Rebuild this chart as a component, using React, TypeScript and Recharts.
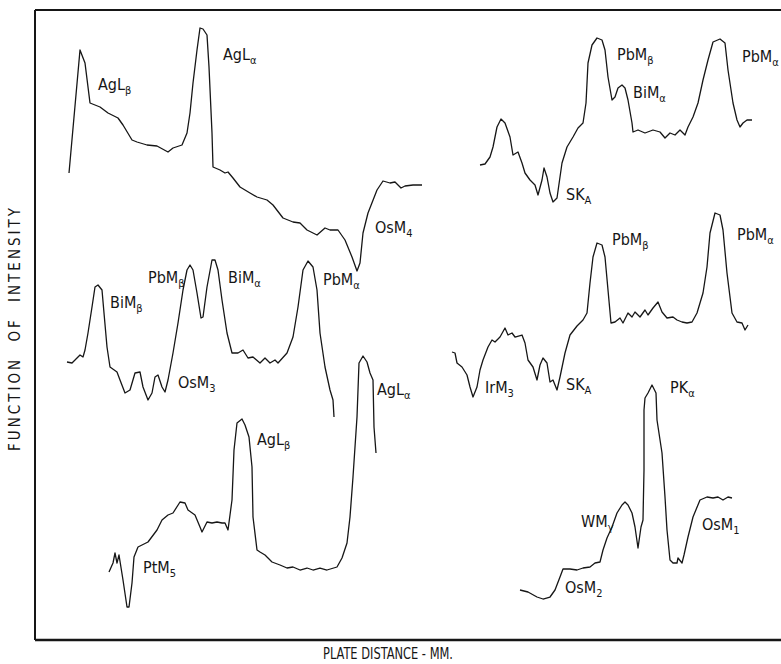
import { Label, Line, LineChart, ReferenceDot, ReferenceLine, XAxis, YAxis } from "recharts";

// plate distance (x) vs function of intensity (y), arbitrary units
const agOsTrace = [
  { x: 34, y: 467 }, { x: 45, y: 590 }, { x: 50, y: 577 }, { x: 55, y: 537 }, { x: 65, y: 533 },
  { x: 73, y: 527 }, { x: 83, y: 522 }, { x: 88, y: 515 }, { x: 97, y: 500 }, { x: 102, y: 498 },
  { x: 112, y: 495 }, { x: 122, y: 494 }, { x: 133, y: 488 }, { x: 138, y: 492 }, { x: 147, y: 495 },
  { x: 152, y: 507 }, { x: 155, y: 527 }, { x: 158, y: 557 }, { x: 162, y: 590 }, { x: 165, y: 612 },
  { x: 168, y: 611 }, { x: 172, y: 605 }, { x: 174, y: 573 }, { x: 177, y: 507 }, { x: 178, y: 473 },
  { x: 185, y: 470 }, { x: 190, y: 467 }, { x: 193, y: 468 }, { x: 198, y: 462 }, { x: 205, y: 453 },
  { x: 215, y: 447 }, { x: 222, y: 443 }, { x: 232, y: 440 }, { x: 238, y: 435 }, { x: 248, y: 422 },
  { x: 258, y: 418 }, { x: 265, y: 417 }, { x: 272, y: 410 }, { x: 282, y: 405 }, { x: 290, y: 412 },
  { x: 295, y: 410 }, { x: 303, y: 410 }, { x: 310, y: 400 }, { x: 317, y: 383 }, { x: 322, y: 369 },
  { x: 325, y: 377 }, { x: 328, y: 407 }, { x: 333, y: 427 }, { x: 342, y: 450 }, { x: 348, y: 459 },
  { x: 355, y: 457 }, { x: 360, y: 458 }, { x: 366, y: 452 }, { x: 370, y: 454 }, { x: 378, y: 455 },
  { x: 387, y: 455 },
];

const biPbTrace = [
  { x: 32, y: 278 }, { x: 37, y: 277 }, { x: 42, y: 282 }, { x: 45, y: 285 }, { x: 48, y: 283 },
  { x: 50, y: 290 }, { x: 53, y: 307 }, { x: 57, y: 333 }, { x: 60, y: 353 }, { x: 63, y: 355 },
  { x: 67, y: 350 }, { x: 69, y: 327 }, { x: 72, y: 293 }, { x: 75, y: 273 }, { x: 82, y: 268 },
  { x: 85, y: 260 }, { x: 90, y: 247 }, { x: 95, y: 250 }, { x: 100, y: 267 }, { x: 105, y: 268 },
  { x: 108, y: 253 }, { x: 113, y: 240 }, { x: 117, y: 247 }, { x: 120, y: 263 }, { x: 123, y: 265 },
  { x: 127, y: 253 }, { x: 130, y: 248 }, { x: 133, y: 260 }, { x: 138, y: 287 }, { x: 143, y: 317 },
  { x: 148, y: 350 }, { x: 152, y: 370 }, { x: 155, y: 375 }, { x: 158, y: 370 }, { x: 162, y: 347 },
  { x: 166, y: 322 }, { x: 168, y: 323 }, { x: 172, y: 353 }, { x: 177, y: 380 }, { x: 180, y: 380 },
  { x: 183, y: 370 }, { x: 187, y: 340 }, { x: 192, y: 307 }, { x: 197, y: 287 }, { x: 203, y: 287 },
  { x: 208, y: 290 }, { x: 213, y: 282 }, { x: 218, y: 283 }, { x: 225, y: 277 }, { x: 230, y: 282 },
  { x: 235, y: 277 }, { x: 240, y: 280 }, { x: 243, y: 277 }, { x: 252, y: 287 }, { x: 258, y: 303 },
  { x: 263, y: 333 }, { x: 268, y: 370 }, { x: 273, y: 379 }, { x: 278, y: 373 }, { x: 282, y: 350 },
  { x: 285, y: 307 }, { x: 290, y: 273 }, { x: 295, y: 250 }, { x: 298, y: 240 }, { x: 299, y: 223 },
];

const ptAgTrace = [
  { x: 74, y: 68 }, { x: 78, y: 77 }, { x: 80, y: 87 }, { x: 82, y: 77 }, { x: 84, y: 85 },
  { x: 88, y: 60 }, { x: 92, y: 33 }, { x: 94, y: 33 }, { x: 97, y: 57 }, { x: 99, y: 83 },
  { x: 103, y: 93 }, { x: 113, y: 98 }, { x: 122, y: 110 }, { x: 127, y: 120 }, { x: 133, y: 125 },
  { x: 138, y: 127 }, { x: 145, y: 138 }, { x: 150, y: 137 }, { x: 153, y: 130 }, { x: 160, y: 125 },
  { x: 165, y: 113 }, { x: 167, y: 108 }, { x: 172, y: 118 }, { x: 177, y: 117 }, { x: 182, y: 118 },
  { x: 187, y: 117 }, { x: 190, y: 117 }, { x: 193, y: 110 }, { x: 197, y: 140 }, { x: 199, y: 190 },
  { x: 202, y: 217 }, { x: 207, y: 221 }, { x: 210, y: 215 }, { x: 214, y: 203 }, { x: 217, y: 173 },
  { x: 218, y: 123 }, { x: 222, y: 90 }, { x: 225, y: 88 }, { x: 230, y: 85 }, { x: 237, y: 78 },
  { x: 245, y: 75 }, { x: 252, y: 72 }, { x: 258, y: 73 }, { x: 265, y: 70 }, { x: 272, y: 72 },
  { x: 278, y: 70 }, { x: 285, y: 72 }, { x: 292, y: 70 }, { x: 302, y: 73 }, { x: 307, y: 82 },
  { x: 312, y: 97 }, { x: 315, y: 123 }, { x: 318, y: 163 }, { x: 322, y: 223 }, { x: 324, y: 277 },
  { x: 328, y: 284 }, { x: 332, y: 278 }, { x: 335, y: 267 }, { x: 338, y: 260 }, { x: 339, y: 213 },
  { x: 341, y: 187 },
];

const pbBiSTrace = [
  { x: 445, y: 475 }, { x: 450, y: 476 }, { x: 455, y: 483 }, { x: 458, y: 493 }, { x: 462, y: 513 },
  { x: 466, y: 521 }, { x: 470, y: 517 }, { x: 475, y: 503 }, { x: 478, y: 485 }, { x: 483, y: 488 },
  { x: 487, y: 477 }, { x: 490, y: 467 }, { x: 495, y: 460 }, { x: 500, y: 455 }, { x: 503, y: 445 },
  { x: 507, y: 460 }, { x: 509, y: 472 }, { x: 512, y: 463 }, { x: 515, y: 447 }, { x: 518, y: 438 },
  { x: 522, y: 442 }, { x: 527, y: 477 }, { x: 532, y: 493 }, { x: 538, y: 503 }, { x: 543, y: 512 },
  { x: 548, y: 517 }, { x: 551, y: 537 }, { x: 553, y: 577 }, { x: 557, y: 595 }, { x: 562, y: 602 },
  { x: 567, y: 600 }, { x: 570, y: 590 }, { x: 573, y: 563 }, { x: 577, y: 540 }, { x: 580, y: 543 },
  { x: 583, y: 552 }, { x: 587, y: 555 }, { x: 590, y: 552 }, { x: 593, y: 540 }, { x: 597, y: 517 },
  { x: 598, y: 508 }, { x: 603, y: 510 }, { x: 610, y: 507 }, { x: 618, y: 510 }, { x: 625, y: 508 },
  { x: 630, y: 502 }, { x: 635, y: 507 }, { x: 640, y: 505 }, { x: 645, y: 510 }, { x: 650, y: 505 },
  { x: 653, y: 513 }, { x: 658, y: 523 }, { x: 663, y: 537 }, { x: 668, y: 560 }, { x: 673, y: 580 },
  { x: 678, y: 598 }, { x: 685, y: 601 }, { x: 690, y: 597 }, { x: 693, y: 570 }, { x: 698, y: 537 },
  { x: 702, y: 520 }, { x: 705, y: 513 }, { x: 708, y: 517 }, { x: 712, y: 520 }, { x: 717, y: 520 },
];

const irPbTrace = [
  { x: 417, y: 288 }, { x: 420, y: 287 }, { x: 422, y: 277 }, { x: 427, y: 273 }, { x: 432, y: 265 },
  { x: 435, y: 253 }, { x: 438, y: 243 }, { x: 442, y: 253 }, { x: 445, y: 270 }, { x: 448, y: 280 },
  { x: 453, y: 293 }, { x: 457, y: 300 }, { x: 460, y: 298 }, { x: 465, y: 303 }, { x: 470, y: 312 },
  { x: 473, y: 305 }, { x: 477, y: 307 }, { x: 480, y: 303 }, { x: 487, y: 305 }, { x: 490, y: 297 },
  { x: 493, y: 280 }, { x: 498, y: 273 }, { x: 502, y: 260 }, { x: 505, y: 275 }, { x: 508, y: 282 },
  { x: 512, y: 277 }, { x: 515, y: 258 }, { x: 518, y: 260 }, { x: 522, y: 250 }, { x: 525, y: 263 },
  { x: 530, y: 287 }, { x: 535, y: 305 }, { x: 542, y: 314 }, { x: 548, y: 320 }, { x: 552, y: 327 },
  { x: 555, y: 357 }, { x: 558, y: 383 }, { x: 562, y: 397 }, { x: 567, y: 395 }, { x: 570, y: 383 },
  { x: 573, y: 350 }, { x: 576, y: 317 }, { x: 580, y: 318 }, { x: 585, y: 322 }, { x: 588, y: 317 },
  { x: 593, y: 327 }, { x: 597, y: 323 }, { x: 600, y: 328 }, { x: 605, y: 323 }, { x: 610, y: 330 },
  { x: 613, y: 325 }, { x: 618, y: 332 }, { x: 623, y: 338 }, { x: 627, y: 328 }, { x: 632, y: 322 },
  { x: 638, y: 323 }, { x: 642, y: 320 }, { x: 647, y: 318 }, { x: 652, y: 317 }, { x: 657, y: 318 },
  { x: 662, y: 327 }, { x: 668, y: 347 }, { x: 672, y: 373 }, { x: 675, y: 407 }, { x: 680, y: 427 },
  { x: 685, y: 425 }, { x: 688, y: 410 }, { x: 692, y: 367 }, { x: 697, y: 327 }, { x: 702, y: 318 },
  { x: 707, y: 317 }, { x: 710, y: 310 }, { x: 713, y: 315 },
];

const pOsTrace = [
  { x: 485, y: 50 }, { x: 493, y: 48 }, { x: 502, y: 43 }, { x: 508, y: 41 }, { x: 515, y: 43 },
  { x: 520, y: 50 }, { x: 525, y: 63 }, { x: 528, y: 71 }, { x: 535, y: 71 }, { x: 542, y: 70 },
  { x: 548, y: 72 }, { x: 555, y: 73 }, { x: 560, y: 77 }, { x: 565, y: 78 }, { x: 568, y: 90 },
  { x: 572, y: 102 }, { x: 577, y: 113 }, { x: 582, y: 127 }, { x: 587, y: 135 }, { x: 590, y: 138 },
  { x: 593, y: 135 }, { x: 597, y: 127 }, { x: 600, y: 113 }, { x: 603, y: 92 }, { x: 606, y: 113 },
  { x: 608, y: 120 }, { x: 609, y: 170 }, { x: 609, y: 230 }, { x: 610, y: 242 }, { x: 613, y: 247 },
  { x: 617, y: 255 }, { x: 621, y: 247 }, { x: 622, y: 220 }, { x: 627, y: 187 }, { x: 630, y: 143 },
  { x: 632, y: 110 }, { x: 635, y: 80 }, { x: 638, y: 77 }, { x: 642, y: 77 }, { x: 643, y: 82 },
  { x: 647, y: 77 }, { x: 649, y: 85 }, { x: 653, y: 103 }, { x: 658, y: 123 }, { x: 665, y: 140 },
  { x: 672, y: 143 }, { x: 678, y: 142 }, { x: 683, y: 143 }, { x: 688, y: 140 }, { x: 693, y: 143 },
  { x: 697, y: 142 },
];

const traces = [agOsTrace, biPbTrace, ptAgTrace, pbBiSTrace, irPbTrace, pOsTrace];

// line identifications: main symbol, subscript, and where the lettering starts
const lineNames = [
  { x: 63, y: 550, text: "AgL", sub: "β" },
  { x: 188, y: 580, text: "AgL", sub: "α" },
  { x: 340, y: 407, text: "OsM", sub: "4" },
  { x: 75, y: 332, text: "BiM", sub: "β" },
  { x: 113, y: 357, text: "PbM", sub: "β" },
  { x: 193, y: 357, text: "BiM", sub: "α" },
  { x: 288, y: 355, text: "PbM", sub: "α" },
  { x: 143, y: 252, text: "OsM", sub: "3" },
  { x: 342, y: 245, text: "AgL", sub: "α" },
  { x: 222, y: 195, text: "AgL", sub: "β" },
  { x: 108, y: 67, text: "PtM", sub: "5" },
  { x: 582, y: 580, text: "PbM", sub: "β" },
  { x: 598, y: 542, text: "BiM", sub: "α" },
  { x: 707, y: 578, text: "PbM", sub: "α" },
  { x: 531, y: 440, text: "SK", sub: "A" },
  { x: 577, y: 395, text: "PbM", sub: "β" },
  { x: 702, y: 400, text: "PbM", sub: "α" },
  { x: 450, y: 247, text: "IrM", sub: "3" },
  { x: 531, y: 250, text: "SK", sub: "A" },
  { x: 635, y: 247, text: "PK", sub: "α" },
  { x: 546, y: 113, text: "WM", sub: "γ" },
  { x: 667, y: 110, text: "OsM", sub: "1" },
  { x: 530, y: 47, text: "OsM", sub: "2" },
];

const hand = "'Liberation Sans Narrow', 'DejaVu Sans Condensed', sans-serif";
const ink = "#161616";

function LineName({ cx, cy, text, sub }: { cx: number; cy: number; text: string; sub: string }) {
  return (
    <text x={cx} y={cy} fontFamily={hand} fontSize={16} fill={ink}>
      {text}
      <tspan fontSize={11} dy={4}>
        {sub}
      </tspan>
    </text>
  );
}

export default function App() {
  return (
    <div style={{ position: "absolute", left: 0, top: 0, background: "#fff" }}>
      <LineChart width={781} height={664} margin={{ top: 10, right: 0, bottom: 23, left: 34 }}>
        <XAxis
          type="number"
          dataKey="x"
          domain={[0, 746]}
          height={1}
          tick={false}
          tickLine={false}
          axisLine={{ stroke: ink, strokeWidth: 2.5 }}
        >
          <Label
            content={({ viewBox }: any) => (
              <text
                x={viewBox.x + 288}
                y={viewBox.y + 19}
                textLength={130}
                lengthAdjust="spacingAndGlyphs"
                fontFamily={hand}
                fontSize={16}
                fill={ink}
              >
                PLATE DISTANCE - MM.
              </text>
            )}
          />
        </XAxis>
        <YAxis
          type="number"
          domain={[0, 630]}
          width={1}
          tick={false}
          tickLine={false}
          axisLine={{ stroke: ink, strokeWidth: 2 }}
        >
          <Label
            content={({ viewBox }: any) => {
              const lx = viewBox.x + viewBox.width - 20;
              const ly = viewBox.y + 318;
              return (
                <text
                  x={lx}
                  y={ly}
                  transform={`rotate(-90 ${lx} ${ly})`}
                  textAnchor="middle"
                  dominantBaseline="central"
                  fontFamily={hand}
                  fontSize={15}
                  letterSpacing={3}
                  wordSpacing={8}
                  fill={ink}
                >
                  FUNCTION OF INTENSITY
                </text>
              );
            }}
          />
        </YAxis>
        <ReferenceLine y={630} stroke={ink} strokeWidth={2} />
        {traces.map((t, i) => (
          <Line
            key={i}
            data={t}
            dataKey="y"
            type="linear"
            dot={false}
            stroke={ink}
            strokeWidth={1.3}
            strokeLinejoin="round"
            isAnimationActive={false}
          />
        ))}
        {lineNames.map((n, i) => (
          <ReferenceDot
            key={i}
            x={n.x}
            y={n.y}
            r={0}
            shape={(p: any) => <LineName cx={p.cx} cy={p.cy} text={n.text} sub={n.sub} />}
          />
        ))}
      </LineChart>
    </div>
  );
}
